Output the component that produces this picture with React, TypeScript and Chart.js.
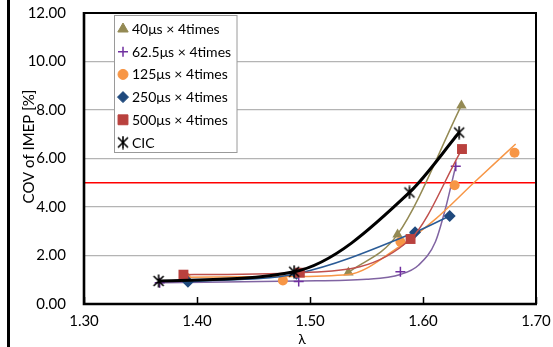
import React, { useEffect, useRef } from 'react';
import { Chart, registerables } from 'chart.js';
import { drawPoint } from 'chart.js/helpers';

Chart.register(...registerables);

// ---- data ----
const seriesLabels = ['40μs × 4times', '62.5μs × 4times', '125μs × 4times', '250μs × 4times', '500μs × 4times', 'CIC'];

const lambda40 = [1.534, 1.5775, 1.634];
const cov40 = [1.3, 2.87, 8.19];

const lambda62 = [1.367, 1.49, 1.58, 1.629];
const cov62 = [0.88, 0.93, 1.33, 5.68];
// fitted curve of the 62.5μs series
const lambda62Fit = [1.367, 1.49, 1.55, 1.58, 1.596, 1.611, 1.62, 1.629];
const cov62Fit = [0.88, 0.95, 1.02, 1.22, 1.6, 2.57, 3.96, 5.7];

const lambda125 = [1.39, 1.476, 1.58, 1.628, 1.681];
const cov125 = [1.1, 0.97, 2.57, 4.9, 6.24];
// fitted curve of the 125μs series
const lambda125Fit = [1.388, 1.476, 1.534, 1.58, 1.611, 1.645, 1.682];
const cov125Fit = [1.1, 1.13, 1.22, 2.4, 3.5, 5.0, 6.6];

const lambda250 = [1.392, 1.488, 1.593, 1.6236];
const cov250 = [0.92, 1.25, 2.96, 3.63];

const lambda500 = [1.388, 1.491, 1.589, 1.6345];
const cov500 = [1.21, 1.29, 2.68, 6.39];

const lambdaCIC = [1.366, 1.486, 1.588, 1.632];
const covCIC = [0.95, 1.33, 4.6, 7.07];

const limitLambda = [1.3, 1.7];
const limitCov = 5.0;

const xTicks = [1.3, 1.4, 1.5, 1.6, 1.7];
const yTicks = [0, 2, 4, 6, 8, 10, 12];

const FONT = 'Lato';

const pts = (xs: number[], ys: number[]) => xs.map((x, i) => ({ x, y: ys[i] }));

function makeStar(): HTMLCanvasElement {
  const c = document.createElement('canvas');
  c.width = 14;
  c.height = 14;
  const g = c.getContext('2d')!;
  g.strokeStyle = '#000';
  g.lineWidth = 1.6;
  g.beginPath();
  g.moveTo(2, 2); g.lineTo(12, 12);
  g.moveTo(12, 2); g.lineTo(2, 12);
  g.moveTo(7, 0.5); g.lineTo(7, 13.5);
  g.stroke();
  return c;
}

const noPad = (s: any) => {
  s.paddingTop = 0;
  s.paddingBottom = 0;
  s.paddingLeft = 0;
  s.paddingRight = 0;
};

export default function App() {
  const ref = useRef<HTMLCanvasElement>(null);

  useEffect(() => {
    const canvas = ref.current!;
    const star = makeStar();

    const legendItems = [
      { style: 'triangle', r: 6, fill: '#948A54', stroke: '#948A54', bw: 1 },
      { style: 'cross', r: 5, fill: '#7030A0', stroke: '#7030A0', bw: 1.5 },
      { style: 'circle', r: 5, fill: '#F79646', stroke: '#F79646', bw: 1 },
      { style: 'rectRot', r: 5.5, fill: '#1F497D', stroke: '#1F497D', bw: 1 },
      { style: 'rect', r: 7, fill: '#B9413E', stroke: '#B9413E', bw: 1 },
      { style: star, r: 6, fill: '#000', stroke: '#000', bw: 0 },
    ];

    const framePlugin = {
      id: 'frame',
      afterDraw(chart: any) {
        const ctx = chart.ctx;
        const a = chart.chartArea;
        const xs = chart.scales.x;
        ctx.save();
        // page side rule
        ctx.fillStyle = '#000';
        ctx.fillRect(7, 0, 3, 347);
        // plot frame
        ctx.strokeStyle = '#000';
        ctx.lineWidth = 2;
        ctx.beginPath();
        ctx.moveTo(a.left, a.top);
        ctx.lineTo(a.right, a.top);
        ctx.lineTo(a.right, a.bottom);
        ctx.stroke();
        ctx.lineWidth = 2.6;
        ctx.beginPath();
        ctx.moveTo(a.left, a.top - 1);
        ctx.lineTo(a.left, a.bottom);
        ctx.lineTo(a.right + 1, a.bottom);
        ctx.stroke();
        // inside tick marks
        ctx.lineWidth = 1.5;
        ctx.beginPath();
        xTicks.forEach((t) => {
          const px = Math.round(xs.getPixelForValue(t)) + 0.5;
          ctx.moveTo(px, a.bottom);
          ctx.lineTo(px, a.bottom - 7);
        });
        ctx.stroke();
        // axis titles
        ctx.fillStyle = '#000';
        ctx.font = `15px ${FONT}`;
        ctx.textAlign = 'center';
        ctx.textBaseline = 'middle';
        ctx.save();
        ctx.translate(29, 146.5);
        ctx.rotate(-Math.PI / 2);
        ctx.fillText('COV of IMEP [%]', 0, 0);
        ctx.restore();
        ctx.font = `14px ${FONT}`;
        ctx.fillText('λ', 302, 339);

        // legend
        const bx = 114.5, by = 15.5, bw = 122.5, bh = 137;
        ctx.fillStyle = '#fff';
        ctx.fillRect(bx, by, bw, bh);
        ctx.strokeStyle = '#9a9a9a';
        ctx.lineWidth = 1;
        ctx.strokeRect(bx, by, bw, bh);
        ctx.font = `14px ${FONT}`;
        ctx.textAlign = 'left';
        ctx.textBaseline = 'middle';
        legendItems.forEach((it, i) => {
          const cy = 29 + i * 22.7;
          ctx.fillStyle = it.fill;
          ctx.strokeStyle = it.stroke;
          ctx.lineWidth = it.bw;
          drawPoint(ctx, { pointStyle: it.style as any, radius: it.r, rotation: 0, borderWidth: it.bw }, 123, cy);
          ctx.fillStyle = '#000';
          ctx.fillText(seriesLabels[i], 132, cy + 0.5);
        });
        ctx.restore();
      },
    };

    const chart = new Chart(canvas, {
      type: 'scatter',
      data: {
        datasets: [
          {
            label: seriesLabels[5],
            data: pts(lambdaCIC, covCIC),
            showLine: true,
            cubicInterpolationMode: 'monotone',
            borderColor: '#000',
            borderWidth: 3,
            pointStyle: star as any,
            pointRadius: 6,
            order: 0,
          },
          {
            label: seriesLabels[4],
            data: pts(lambda500, cov500),
            showLine: true,
            cubicInterpolationMode: 'monotone',
            borderColor: '#C0504D',
            borderWidth: 1.5,
            pointStyle: 'rect',
            pointRadius: 7,
            pointBackgroundColor: '#B9413E',
            pointBorderColor: '#B9413E',
            pointBorderWidth: 0,
            order: 1,
          },
          {
            label: seriesLabels[3],
            data: pts(lambda250, cov250),
            showLine: true,
            cubicInterpolationMode: 'monotone',
            borderColor: '#2A5B96',
            borderWidth: 1.5,
            pointStyle: 'rectRot',
            pointRadius: 6,
            pointBackgroundColor: '#1F497D',
            pointBorderColor: '#1F497D',
            pointBorderWidth: 0,
            order: 2,
          },
          {
            label: seriesLabels[2],
            data: pts(lambda125, cov125),
            showLine: false,
            pointStyle: 'circle',
            pointRadius: 5,
            pointBackgroundColor: '#F79646',
            pointBorderColor: '#F79646',
            pointBorderWidth: 0,
            order: 3,
          },
          {
            label: '125fit',
            data: pts(lambda125Fit, cov125Fit),
            showLine: true,
            cubicInterpolationMode: 'monotone',
            borderColor: '#F79646',
            borderWidth: 1.5,
            pointRadius: 0,
            order: 3.5,
          },
          {
            label: seriesLabels[1],
            data: pts(lambda62, cov62),
            showLine: false,
            pointStyle: 'cross',
            pointRadius: 5,
            pointBorderColor: '#7030A0',
            pointBorderWidth: 1.5,
            order: 4,
          },
          {
            label: '62.5fit',
            data: pts(lambda62Fit, cov62Fit),
            showLine: true,
            cubicInterpolationMode: 'monotone',
            borderColor: '#8064A2',
            borderWidth: 1.5,
            pointRadius: 0,
            order: 4.5,
          },
          {
            label: seriesLabels[0],
            data: pts(lambda40, cov40),
            showLine: true,
            cubicInterpolationMode: 'monotone',
            borderColor: '#948A54',
            borderWidth: 1.5,
            pointStyle: 'triangle',
            pointRadius: 6,
            pointBackgroundColor: '#948A54',
            pointBorderColor: '#948A54',
            pointBorderWidth: 0,
            order: 5,
          },
          {
            label: 'limit',
            data: limitLambda.map((x) => ({ x, y: limitCov })),
            showLine: true,
            borderColor: '#FF0000',
            borderWidth: 1.5,
            pointRadius: 0,
            order: 10,
          },
        ] as any,
      },
      options: {
        responsive: false,
        animation: false,
        events: [],
        layout: { padding: { left: 0, right: 17, top: 13, bottom: 0 } },
        plugins: {
          legend: { display: false },
          tooltip: { enabled: false },
        },
        scales: {
          x: {
            type: 'linear',
            min: 1.3,
            max: 1.7,
            afterFit: (s: any) => { s.height = 43; noPad(s); },
            afterBuildTicks: (s: any) => { s.ticks = xTicks.map((v) => ({ value: v })); },
            grid: { display: false, drawTicks: false },
            border: { display: false },
            ticks: {
              padding: 8,
              color: '#000',
              font: { family: FONT, size: 15 },
              callback: (v: any) => Number(v).toFixed(2),
            },
          },
          y: {
            type: 'linear',
            min: 0,
            max: 12,
            afterFit: (s: any) => { s.width = 84; noPad(s); },
            afterBuildTicks: (s: any) => { s.ticks = yTicks.map((v) => ({ value: v })); },
            grid: { color: '#B4B4B4', lineWidth: 1.3, drawTicks: false },
            border: { display: false },
            ticks: {
              padding: 18,
              color: '#000',
              font: { family: FONT, size: 15 },
              callback: (v: any) => Number(v).toFixed(2),
            },
          },
        },
      },
      plugins: [framePlugin],
    });
    return () => chart.destroy();
  }, []);

  return (
    <div style={{ position: 'absolute', left: 0, top: 0, width: 553, height: 347, background: '#fff' }}>
      <canvas ref={ref} width={553} height={347} style={{ display: 'block', width: 553, height: 347 }} />
    </div>
  );
}
